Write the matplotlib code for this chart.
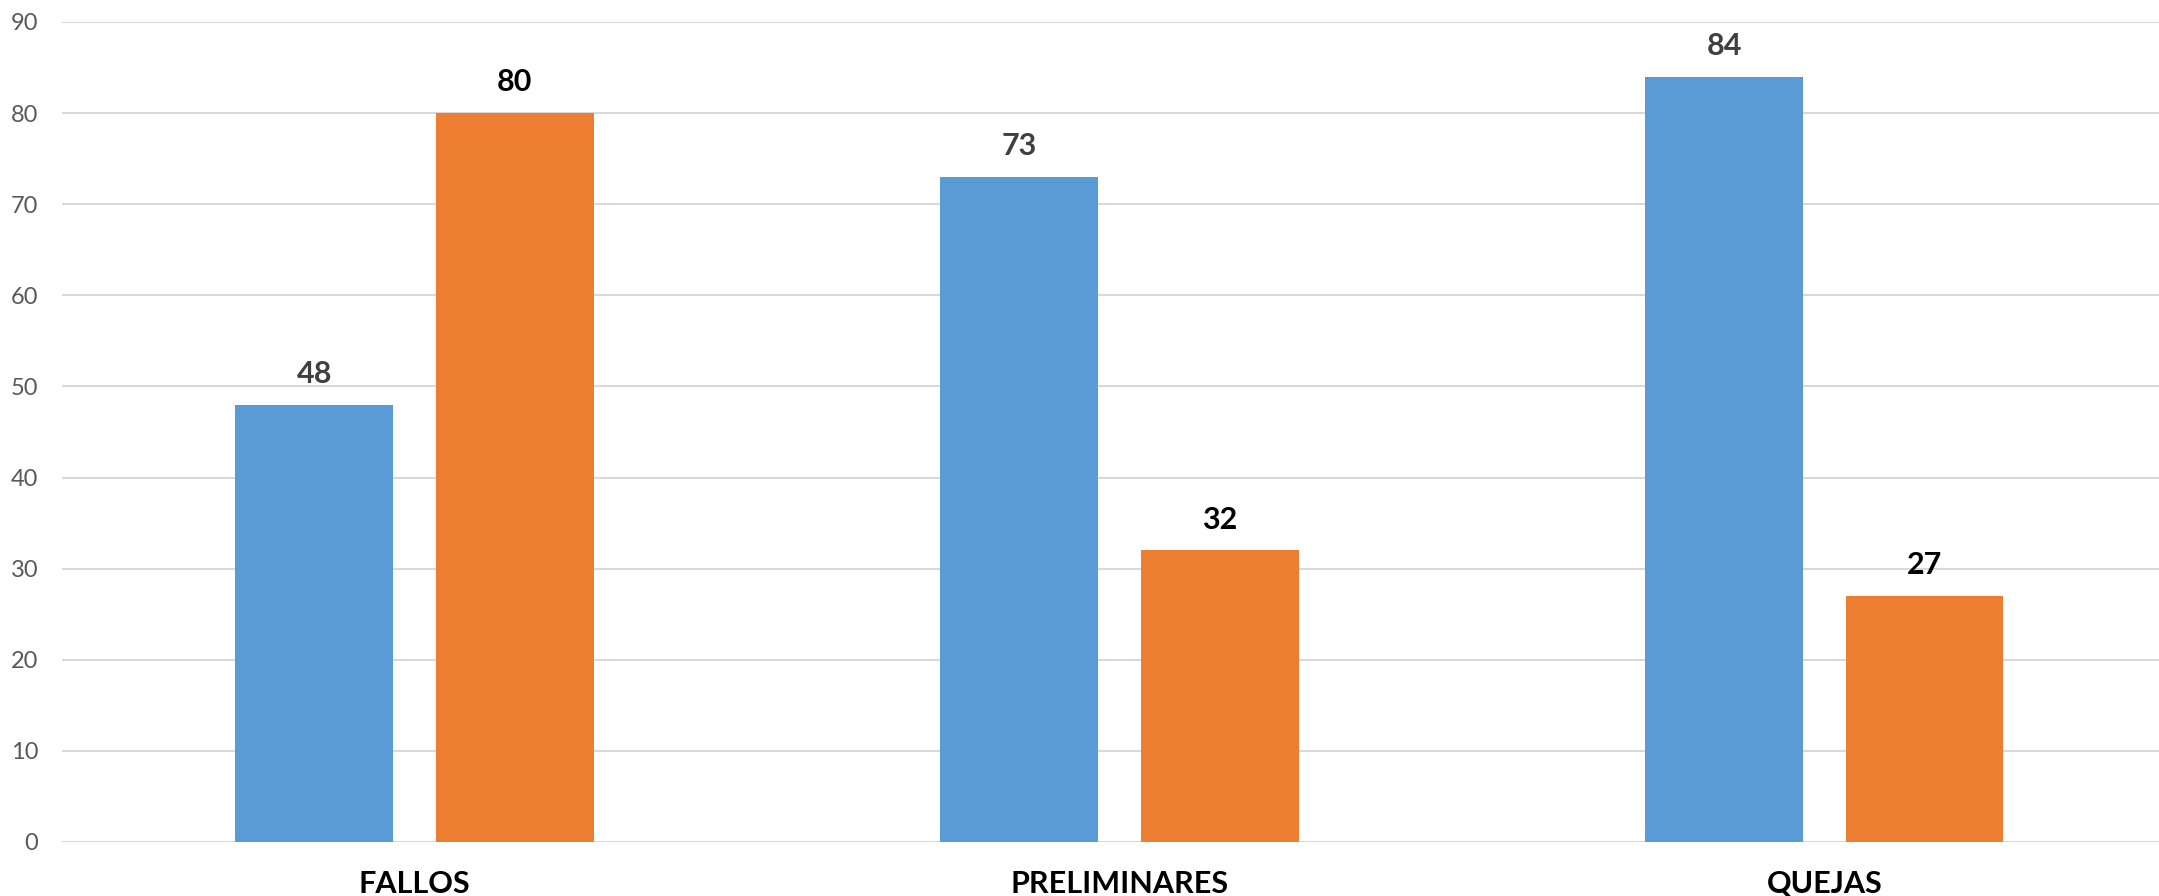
import numpy as np
import matplotlib
matplotlib.use('Agg')
import matplotlib.pyplot as plt
from matplotlib import ticker

# datos del grafico
categorias = ['FALLOS', 'PRELIMINARES', 'QUEJAS']
serie_azul = [48, 73, 84]
serie_naranja = [80, 32, 27]

color_azul = '#5b9bd5'
color_naranja = '#ed7d31'

plt.rcParams['font.family'] = ['Lato', 'DejaVu Sans']

fig = plt.figure(figsize=(21.59, 8.96), dpi=100)
ax = fig.add_axes([0.0287, 0.0603, 0.9796, 0.9152])

x = np.arange(len(categorias))
ancho = 0.224
desp = 0.142

b1 = ax.bar(x - desp, serie_azul, ancho, color=color_azul, zorder=3)
b2 = ax.bar(x + desp, serie_naranja, ancho, color=color_naranja, zorder=3)

# etiquetas de valores
for rect, v in zip(b1, serie_azul):
    ax.annotate(str(v), (rect.get_x() + rect.get_width() / 2, v),
                xytext=(0, 12), textcoords='offset points',
                ha='center', va='bottom', fontsize=22, fontweight='bold',
                color='#404040')
for rect, v in zip(b2, serie_naranja):
    ax.annotate(str(v), (rect.get_x() + rect.get_width() / 2, v),
                xytext=(0, 12), textcoords='offset points',
                ha='center', va='bottom', fontsize=22, fontweight='bold',
                color='black')

ax.set_xlim(-0.5, 2.5)
ax.set_ylim(0, 90)
ax.yaxis.set_major_locator(ticker.MultipleLocator(10))
ax.set_xticks(x)
ax.set_xticklabels(categorias, fontsize=22, fontweight='bold', color='black')

ax.tick_params(axis='y', length=0, pad=17, labelsize=17, labelcolor='#595959')
ax.tick_params(axis='x', length=0, pad=20)

ax.grid(axis='y', color='#d9d9d9', linewidth=1.5, zorder=0)
for s in ax.spines.values():
    s.set_visible(False)

fig.savefig('out.png', dpi=100)
